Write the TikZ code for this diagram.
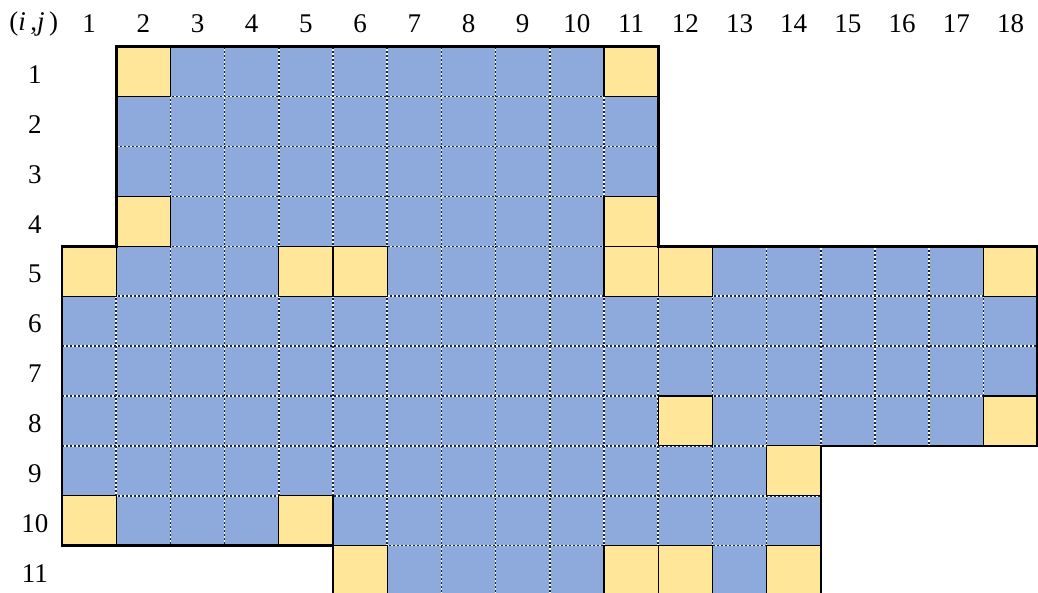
\documentclass[tikz,border=0pt]{standalone}
\usepackage{fontspec}
\setmainfont{Liberation Serif}
\definecolor{cellblue}{RGB}{142,169,219}
\definecolor{cellyellow}{RGB}{255,230,153}
\definecolor{dotnavy}{RGB}{25,35,70}
\begin{document}
\begin{tikzpicture}[x=54.2pt,y=-49.9pt,
  gridwhite/.style={white,line width=1.5pt},
  griddot/.style={dotnavy,line width=1.5pt,dash pattern=on 2pt off 2pt},
  ycell/.style={fill=cellyellow,draw=black,line width=1.1pt},
  outline/.style={draw=black,line width=2.6pt,line join=miter},
  lab/.style={font=\fontsize{27}{29}\selectfont,inner sep=0pt,anchor=center}]
\useasboundingbox (-1.14391,-0.93587) rectangle (18.0074,10.9279);
% blue fill
\fill[cellblue] (1,0) rectangle (11,4);
\fill[cellblue] (0,4) rectangle (18,8);
\fill[cellblue] (0,8) rectangle (14,10);
\fill[cellblue] (5,10) rectangle (14,11);
% internal grid lines
\foreach \st in {gridwhite,griddot}{
  \foreach \k in {2,...,10} \draw[\st] (\k,0) -- (\k,4);
  \foreach \k in {1,...,17} \draw[\st] (\k,4) -- (\k,8);
  \foreach \k in {1,...,13} \draw[\st] (\k,8) -- (\k,10);
  \foreach \k in {6,...,13} \draw[\st] (\k,10) -- (\k,11);
  \foreach \k in {1,2,3,4} \draw[\st] (1,\k) -- (11,\k);
  \foreach \k in {5,6,7} \draw[\st] (0,\k) -- (18,\k);
  \foreach \k in {8,9} \draw[\st] (0,\k) -- (14,\k);
  \draw[\st] (5,10) -- (14,10);
}
% yellow cells (i,j)
\foreach \i/\j in {1/2,1/11,4/2,4/11,5/1,5/5,5/6,5/11,5/12,5/18,8/12,8/18,9/14,10/1,10/5,11/6,11/11,11/12,11/14}
  \draw[ycell] (\j-1,\i-1) rectangle (\j,\i);
% outline
\draw[outline] (1,0) -- (11,0) -- (11,4) -- (18,4) -- (18,8) -- (14,8) -- (14,11) -- (5,11) -- (5,10) -- (0,10) -- (0,4) -- (1,4) -- cycle;
% labels
\node[lab] (corner) at (-0.52,-0.46) {(\textit{i}\,,\textit{j}\,)};
\foreach \j in {1,...,18} \node[lab] (col\j) at (\j-0.5,-0.46) {\j};
\foreach \i in {1,...,11} \node[lab] (row\i) at (-0.50,\i-0.44) {\i};
\end{tikzpicture}
\end{document}
